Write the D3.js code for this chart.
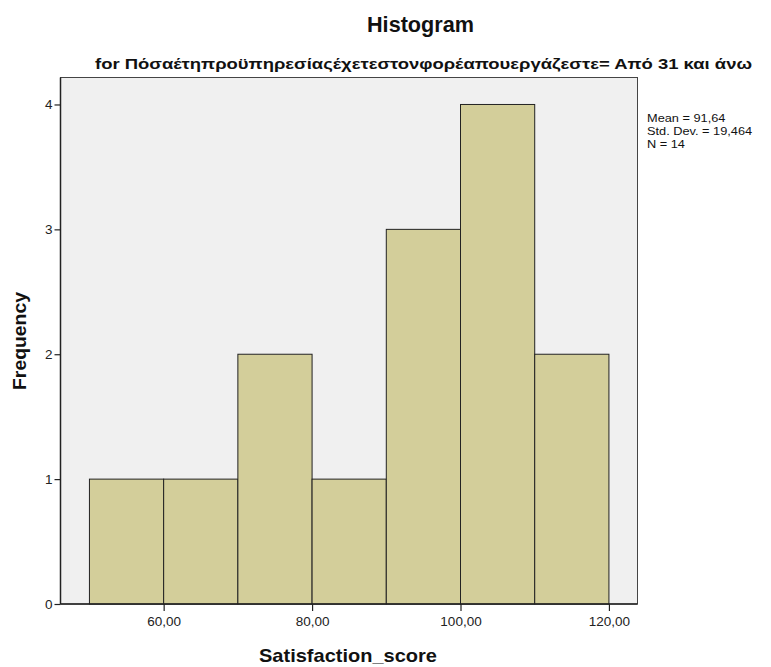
<!DOCTYPE html>
<html>
<head>
<meta charset="utf-8">
<script src="https://cdn.jsdelivr.net/npm/d3@7/dist/d3.min.js"></script>
<style>
  html, body { margin: 0; padding: 0; background: #ffffff; }
  svg { display: block; }
  text { font-family: "Liberation Sans", Arial, sans-serif; }
</style>
</head>
<body>
<svg id="chart" width="771" height="667"></svg>
<script>
// Histogram bins (lower edge, upper edge) and counts
const binStarts = [50, 60, 70, 80, 90, 100, 110];
const binEnds   = [60, 70, 80, 90, 100, 110, 120];
const counts    = [1, 1, 2, 1, 3, 4, 2];

const xTicks = [60, 80, 100, 120];
const yTicks = [0, 1, 2, 3, 4];

const titleText = "Histogram";
const subtitleText = "for Πόσαέτηπροϋπηρεσίαςέχετεστονφορέαπουεργάζεστε= Από 31 και άνω";
const xLabel = "Satisfaction_score";
const yLabel = "Frequency";
const statsLines = ["Mean = 91,64", "Std. Dev. = 19,464", "N = 14"];

const svg = d3.select("#chart");

const plot = { left: 60.5, right: 637.5, top: 77.5, bottom: 604 };

const x = d3.scaleLinear().domain([46.1, 123.85]).range([plot.left, plot.right]);
const y = d3.scaleLinear().domain([0, 4.216]).range([plot.bottom, plot.top]);

// plot background with frame
svg.append("rect")
  .attr("x", plot.left).attr("y", plot.top)
  .attr("width", plot.right - plot.left).attr("height", plot.bottom - plot.top)
  .attr("fill", "#f0f0f0").attr("stroke", "#444").attr("stroke-width", 1);

// bars
const bins = binStarts.map((s, i) => ({ x0: s, x1: binEnds[i], n: counts[i] }));
svg.append("g").selectAll("rect").data(bins).join("rect")
  .attr("x", d => x(d.x0))
  .attr("y", d => y(d.n))
  .attr("width", d => x(d.x1) - x(d.x0))
  .attr("height", d => y(0) - y(d.n))
  .attr("fill", "#d3ce9a")
  .attr("stroke", "#222")
  .attr("stroke-width", 1);

// axes
const fmt = d => d.toFixed(2).replace(".", ",");
const xAxis = d3.axisBottom(x).tickValues(xTicks).tickFormat(fmt).tickSize(7).tickPadding(5);
const gx = svg.append("g").attr("transform", `translate(0,${plot.bottom})`).call(xAxis);
gx.select(".domain").attr("stroke", "#222").attr("stroke-width", 1.5)
  .attr("d", `M${plot.left},0H${plot.right}`);
gx.selectAll(".tick line").attr("stroke", "#222").attr("stroke-width", 1.2);
gx.selectAll(".tick text").attr("font-size", 13.5).attr("fill", "#222")
  .style("font-family", "'Liberation Sans', Arial, sans-serif");

const yAxis = d3.axisLeft(y).tickValues(yTicks).tickFormat(d3.format("d")).tickSize(6).tickPadding(2);
const gy = svg.append("g").attr("transform", `translate(${plot.left},0)`).call(yAxis);
gy.select(".domain").attr("stroke", "#222").attr("stroke-width", 1.5)
  .attr("d", `M0,${plot.top}V${plot.bottom}`);
gy.selectAll(".tick line").attr("stroke", "#222").attr("stroke-width", 1.2);
gy.selectAll(".tick text").attr("font-size", 13.5).attr("fill", "#222")
  .style("font-family", "'Liberation Sans', Arial, sans-serif");

// titles
svg.append("text").attr("x", 420.5).attr("y", 32).attr("text-anchor", "middle")
  .attr("font-size", 21.5).attr("font-weight", "bold").attr("fill", "#111")
  .attr("textLength", 107).attr("lengthAdjust", "spacingAndGlyphs").text(titleText);

svg.append("text").attr("x", 423.5).attr("y", 68.5).attr("text-anchor", "middle")
  .attr("font-size", 15.5).attr("font-weight", "bold").attr("fill", "#111")
  .attr("textLength", 657).attr("lengthAdjust", "spacingAndGlyphs")
  .text(subtitleText);

svg.append("text").attr("x", 348).attr("y", 662).attr("text-anchor", "middle")
  .attr("font-size", 19).attr("font-weight", "bold").attr("fill", "#111")
  .attr("textLength", 178).attr("lengthAdjust", "spacingAndGlyphs").text(xLabel);

svg.append("text").attr("transform", "translate(26,341) rotate(-90)").attr("text-anchor", "middle")
  .attr("font-size", 19).attr("font-weight", "bold").attr("fill", "#111")
  .attr("textLength", 98).attr("lengthAdjust", "spacingAndGlyphs").text(yLabel);

// summary statistics: compact lines, slightly widened glyphs
svg.append("g").selectAll("text").data(statsLines).join("text")
  .attr("x", 647).attr("y", (d, i) => 122 + i * 13)
  .attr("font-size", 11.3).attr("fill", "#111").text(d => d)
  .each(function () {
    const w = this.getComputedTextLength();
    d3.select(this).attr("textLength", w * 1.13).attr("lengthAdjust", "spacingAndGlyphs");
  });
</script>
</body>
</html>
